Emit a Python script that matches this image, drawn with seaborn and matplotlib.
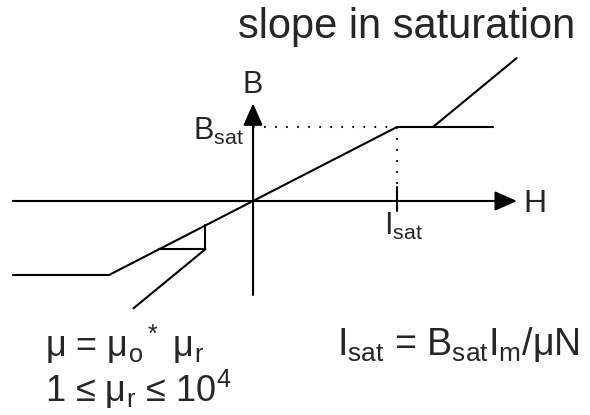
import matplotlib
matplotlib.use("Agg")
import matplotlib.pyplot as plt
import seaborn as sns
import pandas as pd

# Idealised B-H magnetisation curve (H in units of I_sat, B in units of B_sat)
curve_H = [-1.667, -1.0, 1.0, 1.667]
curve_B = [-1.0, -1.0, 1.0, 1.0]

# Steeper line showing the slope in saturation
upper_slope_H = [1.25, 1.83]
upper_slope_B = [1.0, 1.93]
lower_slope_H = [-0.33, -0.83]
lower_slope_B = [-0.65, -1.45]

# Small slope triangle on the linear part
tri_H = [-0.33, -0.33, -0.65]
tri_B = [-0.33, -0.65, -0.65]

# Axis extents
H_axis = [-1.667, 1.833]
B_axis = [-1.27, 1.32]

# Saturation point and tick
H_sat = 1.0
B_sat = 1.0

sns.set_theme(style="white")
plt.rcParams["font.family"] = ["Liberation Sans", "DejaVu Sans"]
plt.rcParams["mathtext.fontset"] = "custom"
plt.rcParams["mathtext.rm"] = "Liberation Sans"
plt.rcParams["mathtext.it"] = "Liberation Sans:italic"
plt.rcParams["mathtext.default"] = "regular"

fig = plt.figure(figsize=(5.9, 4.15), dpi=100)
ax = fig.add_axes([0, 0, 1, 1])
ax.set_xlim(-1.757, 2.34)
ax.set_ylim(-2.892, 2.716)
ax.axis("off")

lw = 1.5
k = "black"


def segment(hs, bs):
    sns.lineplot(x=hs, y=bs, sort=False, estimator=None, color=k, lw=lw, ax=ax)


# Main magnetisation curve
df = pd.DataFrame({"H": curve_H, "B": curve_B})
sns.lineplot(data=df, x="H", y="B", sort=False, estimator=None, color=k, lw=lw, ax=ax)

segment(upper_slope_H, upper_slope_B)
segment(lower_slope_H, lower_slope_B)
segment(tri_H, tri_B)

# Axes with arrowheads
arrow = dict(arrowstyle="-|>,head_length=0.68,head_width=0.3", color=k, lw=lw,
             mutation_scale=20, shrinkA=0, shrinkB=0)
ax.annotate("", xy=(H_axis[1], 0), xytext=(H_axis[0], 0), arrowprops=arrow)
ax.annotate("", xy=(0, B_axis[1]), xytext=(0, B_axis[0]), arrowprops=arrow)

# Tick at I_sat
ax.plot([H_sat, H_sat], [-0.14, 0.19], color=k, lw=lw)

# Dotted guides to the saturation point
dot = dict(color=k, lw=1.5, linestyle=(0, (0.8, 4.5)))
ax.plot([0, H_sat], [B_sat, B_sat], **dot)
ax.plot([H_sat, H_sat], [B_sat, 0.19], **dot)

# Labels
ax.text(-0.104, 2.2, "slope in saturation", fontsize=30, ha="left", va="baseline")
ax.text(0.0, 1.574, "B", fontsize=22, ha="center", va="center")
ax.text(1.875, -0.04, "H", fontsize=23, ha="left", va="center")
ax.text(-0.06, 0.83, r"B$_{sat}$", fontsize=22, ha="right", va="baseline")
ax.text(0.91, -0.46, r"I$_{sat}$", fontsize=22, ha="left", va="baseline")

ax.text(-1.444, -2.11, r"μ = μ$_o{}^*$ μ$_r$", fontsize=26,
        ha="left", va="baseline")
ax.text(-1.444, -2.72, r"1 ≤ μ$_r$ ≤ 10$^4$", fontsize=26,
        ha="left", va="baseline")
ax.text(0.583, -2.08, r"I$_{sat}$ = B$_{sat}$I$_m$/μN", fontsize=27,
        ha="left", va="baseline")

fig.savefig("out.png", dpi=100)
